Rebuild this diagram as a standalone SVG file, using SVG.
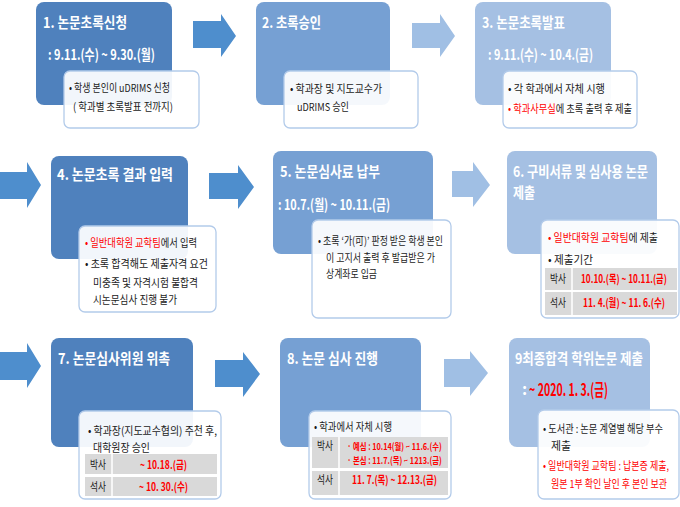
<svg xmlns="http://www.w3.org/2000/svg" width="680" height="507" viewBox="0 0 680 507">
<style>
text{font-family:"Noto Sans CJK KR","Noto Sans",sans-serif}
.b1{fill:#4f81bd}
.b2{fill:#76a0d3}
.b3{fill:#a5c0e3}
.a1{fill:#4e8ecd}
.a2{fill:#a0bfe4}
.w{fill:#ffffff;fill-opacity:0.93;stroke:#b3cbea;stroke-width:1.3}
.t{fill:#ffffff;font-size:15px;font-weight:700}
.d{fill:#ffffff;font-size:14.5px;font-weight:700}
.s{fill:#1a1a1a;font-size:11px}
.r{fill:#ff0000}
.rb{fill:#ff0000;font-size:11px;font-weight:700}
.g{fill:#d9d9d9}
.sep{stroke:#ffffff;stroke-width:1.5}
</style>
<g id="connectors">
<polygon class="a1" points="193,21 221,21 221,14 236,36 221,57 221,48 193,48"/>
<polygon class="a2" points="412,23 440,23 440,14 455,36 440,57 440,48 412,48"/>
<polygon class="a1" points="0,172 27,172 27,162 41,185 27,208 27,199 0,199"/>
<polygon class="a1" points="209,173 238,173 238,165 254,187 238,209 238,199 209,199"/>
<polygon class="a2" points="452,171 473,171 473,162 490,185 473,207 473,197 452,197"/>
<polygon class="a1" points="0,352 27,352 27,343 41,366 27,388 27,380 0,380"/>
<polygon class="a1" points="215,360 243,360 243,352 260,374 243,397 243,387 215,387"/>
<polygon class="a2" points="444,359 470,359 470,351 488,373 470,396 470,387 444,387"/>
</g>
<g id="node1">
<rect class="b1" x="36" y="2" width="136" height="103" rx="8"/>
<text class="t" x="43" y="28" textLength="84" lengthAdjust="spacingAndGlyphs">1. 논문초록신청</text>
<text class="d" x="48" y="60" textLength="107" lengthAdjust="spacingAndGlyphs">: 9.11.(수) ~ 9.30.(월)</text>
<rect class="w" x="64" y="71" width="135" height="57" rx="6"/>
<text class="s" x="69" y="92" textLength="101" lengthAdjust="spacingAndGlyphs">• 학생 본인이 uDRIMS 신청</text>
<text class="s" x="73" y="111" textLength="100" lengthAdjust="spacingAndGlyphs">( 학과별 초록발표 전까지)</text>
</g>
<g id="node2">
<rect class="b2" x="256" y="2" width="134" height="103" rx="8"/>
<text class="t" x="262" y="28" textLength="59" lengthAdjust="spacingAndGlyphs">2. 초록승인</text>
<rect class="w" x="284" y="71" width="134" height="57" rx="6"/>
<text class="s" x="290" y="93" textLength="92" lengthAdjust="spacingAndGlyphs">• 학과장 및 지도교수가</text>
<text class="s" x="297" y="111" textLength="52" lengthAdjust="spacingAndGlyphs">uDRIMS 승인</text>
</g>
<g id="node3">
<rect class="b3" x="475" y="2" width="136" height="103" rx="8"/>
<text class="t" x="482" y="28" textLength="83" lengthAdjust="spacingAndGlyphs">3. 논문초록발표</text>
<text class="d" x="488" y="60" textLength="105" lengthAdjust="spacingAndGlyphs">: 9.11.(수) ~ 10.4.(금)</text>
<rect class="w" x="503" y="71" width="134" height="57" rx="6"/>
<text class="s" x="508" y="93" textLength="97" lengthAdjust="spacingAndGlyphs">• 각 학과에서 자체 시행</text>
<text class="s" transform="translate(508,113) scale(0.85,1)" textLength="146" lengthAdjust="spacingAndGlyphs"><tspan class="r">• 학과사무실</tspan>에 초록 출력 후 제출</text>
</g>
<g id="node4">
<rect class="b1" x="51" y="156" width="137" height="103" rx="8"/>
<text class="t" x="57" y="180" textLength="116" lengthAdjust="spacingAndGlyphs">4. 논문초록 결과 입력</text>
<rect class="w" x="79" y="226" width="137" height="86" rx="6"/>
<text class="s" transform="translate(85,247) scale(0.8,1)" textLength="140" lengthAdjust="spacingAndGlyphs"><tspan class="r">• 일반대학원 교학팀</tspan>에서 입력</text>
<text class="s" x="85" y="268" textLength="123" lengthAdjust="spacingAndGlyphs">• 초록 합격해도 제출자격 요건</text>
<text class="s" x="93" y="287" textLength="105" lengthAdjust="spacingAndGlyphs">미충족 및 자격시험 불합격</text>
<text class="s" x="93" y="304" textLength="84" lengthAdjust="spacingAndGlyphs">시논문심사 진행 불가</text>
</g>
<g id="node5">
<rect class="b2" x="273" y="151" width="160" height="103" rx="8"/>
<text class="t" x="280" y="177" textLength="100" lengthAdjust="spacingAndGlyphs">5. 논문심사료  납부</text>
<text class="d" x="278" y="210" textLength="112" lengthAdjust="spacingAndGlyphs">: 10.7.(월) ~ 10.11.(금)</text>
<rect class="w" x="312" y="220" width="139" height="98" rx="6"/>
<text class="s" x="318" y="245" textLength="125" lengthAdjust="spacingAndGlyphs">• 초록 ‘가(可)’ 판정 받은 학생 본인</text>
<text class="s" x="326" y="262" textLength="109" lengthAdjust="spacingAndGlyphs">이 고지서 출력 후 발급받은 가</text>
<text class="s" x="326" y="278" textLength="51" lengthAdjust="spacingAndGlyphs">상계좌로 입금</text>
</g>
<g id="node6">
<rect class="b3" x="507" y="151" width="150" height="103" rx="8"/>
<text class="t" x="513" y="177" textLength="135" lengthAdjust="spacingAndGlyphs">6. 구비서류 및 심사용 논문</text>
<text class="t" x="513" y="198" textLength="22" lengthAdjust="spacingAndGlyphs">제출</text>
<rect class="w" x="541" y="220" width="138" height="98" rx="6"/>
<text class="s" transform="translate(548,242) scale(0.83,1)" textLength="132.5" lengthAdjust="spacingAndGlyphs"><tspan class="r">• 일반대학원 교학팀</tspan>에 제출</text>
<text class="s" x="548" y="264" textLength="45" lengthAdjust="spacingAndGlyphs">•  제출기간</text>
<rect class="g" x="545" y="268" width="132" height="22"/>
<rect class="g" x="545" y="292" width="132" height="23"/>
<line class="sep" x1="572" y1="268" x2="572" y2="315"/>
<text class="s" x="550" y="283" textLength="16" lengthAdjust="spacingAndGlyphs">박사</text>
<text class="rb" transform="translate(581,283) scale(0.78,1)" textLength="110" lengthAdjust="spacingAndGlyphs">10.10.(목) ~ 10.11.(금)</text>
<text class="s" x="550" y="307" textLength="16" lengthAdjust="spacingAndGlyphs">석사</text>
<text class="rb" transform="translate(583,307) scale(0.8,1)" textLength="102.5" lengthAdjust="spacingAndGlyphs">11. 4.(월) ~ 11. 6.(수)</text>
</g>
<g id="node7">
<rect class="b1" x="51" y="338" width="142" height="109" rx="8"/>
<text class="t" x="58" y="364" textLength="112" lengthAdjust="spacingAndGlyphs">7. 논문심사위원  위촉</text>
<rect class="w" x="79" y="411" width="142" height="88" rx="6"/>
<text class="s" x="88" y="435" textLength="129" lengthAdjust="spacingAndGlyphs">• 학과장(지도교수협의) 주천 후,</text>
<text class="s" x="93" y="452" textLength="57" lengthAdjust="spacingAndGlyphs">대학원장 승인</text>
<rect class="g" x="85" y="454" width="132" height="20"/>
<rect class="g" x="85" y="477" width="132" height="19"/>
<line class="sep" x1="112" y1="454" x2="112" y2="496"/>
<text class="s" x="90" y="469" textLength="16" lengthAdjust="spacingAndGlyphs">박사</text>
<text class="rb" x="140" y="469" textLength="47" lengthAdjust="spacingAndGlyphs">~ 10.18.(금)</text>
<text class="s" x="90" y="491" textLength="16" lengthAdjust="spacingAndGlyphs">석사</text>
<text class="rb" x="139" y="491" textLength="49" lengthAdjust="spacingAndGlyphs">~ 10. 30.(수)</text>
</g>
<g id="node8">
<rect class="b2" x="280" y="338" width="141" height="109" rx="8"/>
<text class="t" x="287" y="364" textLength="91" lengthAdjust="spacingAndGlyphs">8. 논문 심사 진행</text>
<rect class="w" x="309" y="411" width="142" height="88" rx="6"/>
<text class="s" x="314" y="431" textLength="78" lengthAdjust="spacingAndGlyphs">• 학과에서 자체 시행</text>
<rect class="g" x="312" y="437" width="136" height="31"/>
<rect class="g" x="312" y="471" width="136" height="24"/>
<line class="sep" x1="339" y1="437" x2="339" y2="495"/>
<text class="s" x="317" y="450" textLength="16" lengthAdjust="spacingAndGlyphs">박사</text>
<text class="rb" style="font-size:9.5px" transform="translate(347,450) scale(0.81,1)" textLength="117" lengthAdjust="spacingAndGlyphs">· 예심 : 10.14(월) ~ 11.6.(수)</text>
<text class="rb" style="font-size:9.5px" transform="translate(347,464) scale(0.81,1)" textLength="117" lengthAdjust="spacingAndGlyphs">· 본심 : 11.7.(목) ~ 1213.(금)</text>
<text class="s" x="317" y="484" textLength="16" lengthAdjust="spacingAndGlyphs">석사</text>
<text class="rb" x="352" y="484" textLength="85" lengthAdjust="spacingAndGlyphs">11. 7.(목) ~ 12.13.(금)</text>
</g>
<g id="node9">
<rect class="b3" x="509" y="338" width="141" height="109" rx="8"/>
<text class="t" x="515" y="364" style="font-size:14.5px" textLength="128" lengthAdjust="spacingAndGlyphs">9최종합격 학위논문 제출</text>
<text class="d" x="522" y="395" style="font-size:16px">:</text>
<text class="d r" x="529" y="396" style="font-size:17px" textLength="79" lengthAdjust="spacingAndGlyphs">~ 2020. 1. 3.(금)</text>
<rect class="w" x="538" y="410" width="141" height="89" rx="6"/>
<text class="s" transform="translate(543,433) scale(0.78,1)" textLength="153.8" lengthAdjust="spacingAndGlyphs">• 도서관 : 논문 계열별 해당 부수</text>
<text class="s" x="551" y="450" textLength="20" lengthAdjust="spacingAndGlyphs">제출</text>
<text class="s r" transform="translate(543,470) scale(0.78,1)" textLength="161.5" lengthAdjust="spacingAndGlyphs">• 일반대학원 교학팀 : 납본증 제출,</text>
<text class="s r" transform="translate(551,488) scale(0.78,1)" textLength="148.7" lengthAdjust="spacingAndGlyphs">원본 1부 확인 날인 후 본인 보관</text>
</g>
</svg>
